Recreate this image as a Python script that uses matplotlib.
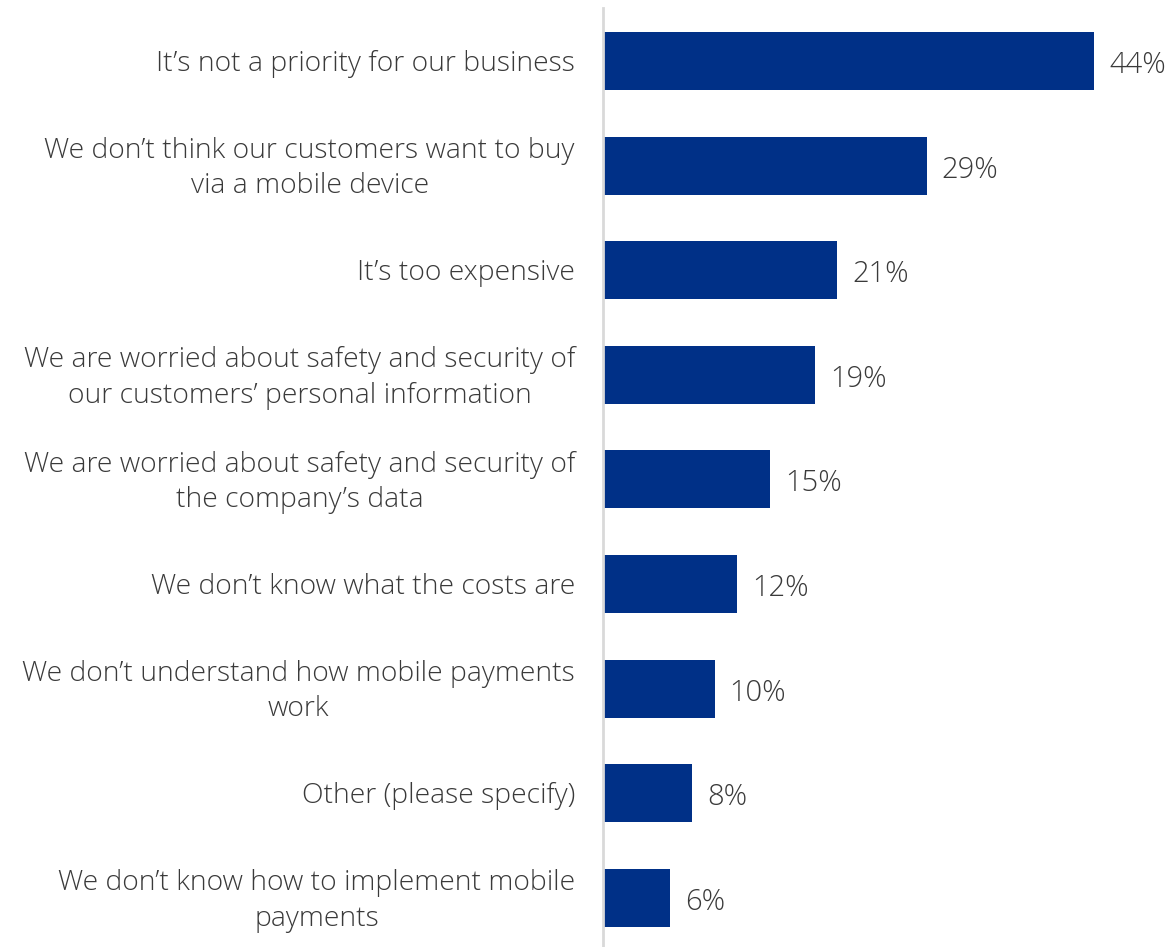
import matplotlib.pyplot as plt

categories = [
    "It\u2019s not a priority for our business",
    "We don\u2019t think our customers want to buy\nvia a mobile device",
    "It\u2019s too expensive",
    "We are worried about safety and security of\nour customers\u2019 personal information",
    "We are worried about safety and security of\nthe company\u2019s data",
    "We don\u2019t know what the costs are",
    "We don\u2019t understand how mobile payments\nwork",
    "Other (please specify)",
    "We don\u2019t know how to implement mobile\npayments",
]
values = [44, 29, 21, 19, 15, 12, 10, 8, 6]

bar_color = "#003087"
text_color = "#3a3a3a"

plt.rcParams['font.family'] = ['Open Sans', 'DejaVu Sans']

fig = plt.figure(figsize=(11.73, 9.47), dpi=100)
ax = fig.add_axes([603 / 1173, 0, 570 / 1173, 939 / 947])

y = list(range(len(values)))
ax.barh(y, values, height=0.555, color=bar_color)

ax.set_ylim(8.47, -0.507)
ax.set_xlim(0, 570 / 11.16)

for yi, v in zip(y, values):
    ax.text(v + 1.35, yi + 0.04, f"{v}%", va="center", ha="left",
            fontsize=21, fontweight="light", color=text_color)

for yi, lab in zip(y, categories):
    ax.text(-28 / 11.16, yi + 0.03, lab, va="center", ha="right", multialignment="center",
            fontsize=20.3, fontweight="light", color=text_color, linespacing=1.34)

for s in ["top", "right", "bottom"]:
    ax.spines[s].set_visible(False)
ax.spines["left"].set_color("#d9d9d9")
ax.spines["left"].set_linewidth(2)
ax.set_xticks([])
ax.set_yticks([])

fig.savefig("out.png", dpi=100)
